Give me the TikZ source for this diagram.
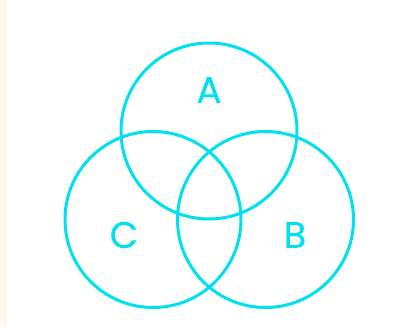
\documentclass[tikz,border=0pt]{standalone}
\usepackage{fontspec}
\setmainfont{Poppins}
\newfontfamily\labelfont[FakeBold=0.3]{Poppins}
\usepackage{tikz}
\usetikzlibrary{positioning}
\usepackage{xcolor}
\definecolor{vennCyan}{RGB}{0,224,240}
\definecolor{stripCream}{HTML}{FFF7EC}

\begin{document}
\begin{tikzpicture}[
  x=1pt,y=-1pt,
  every node/.style={font=\labelfont\fontsize{37}{40}\selectfont},
  setcircle/.style={circle,draw=vennCyan,line width=3pt,minimum size=176pt,inner sep=0pt},
  setlabel/.style={text=vennCyan,inner sep=0pt},
]
\useasboundingbox (0,0) rectangle (399,327);
\fill[stripCream] (0,0) rectangle (7,327);

\node[setcircle] (setA) at (209,131) {};
\node[setcircle] (setC) at (153,219.5) {};
\node[setcircle] (setB) at (265.5,219.5) {};

\node[setlabel] (labA) at (209,90) {A};
\node[setlabel] (labC) at (124,235) {C};
\node[setlabel] (labB) at (295,235) {B};
\end{tikzpicture}
\end{document}
